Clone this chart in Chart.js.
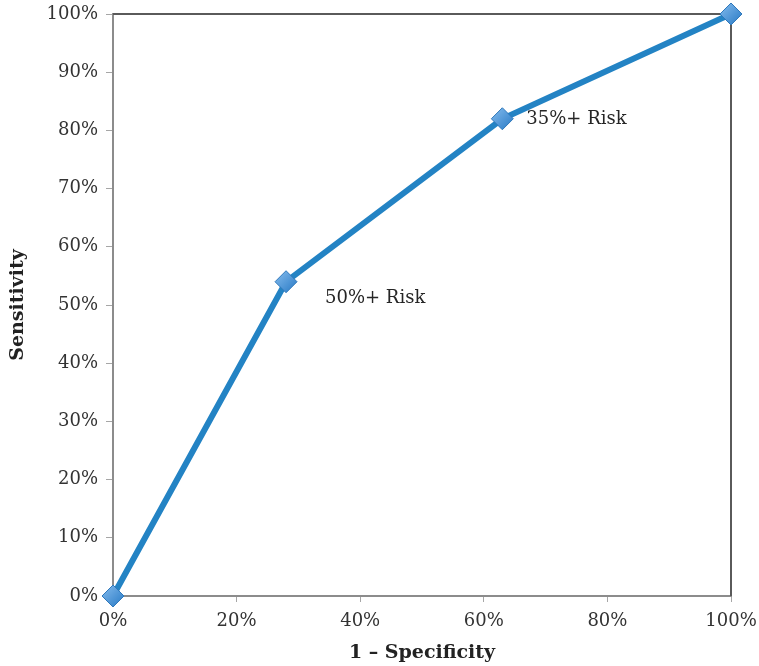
<!DOCTYPE html>
<html>
<head>
<meta charset="utf-8">
<script src="https://cdn.jsdelivr.net/npm/chart.js@4/dist/chart.umd.min.js"></script>
<style>
  html, body { margin: 0; padding: 0; background: #fff; }
  #wrap { width: 759px; height: 666px; }
</style>
</head>
<body>
<div id="wrap"><canvas id="c" width="759" height="666"></canvas></div>
<script>
// ROC curve: false positive rate (1 - specificity) vs sensitivity, in percent
const falsePositiveRate = [0, 28, 63, 100];
const sensitivity = [0, 54, 82, 100];
// Risk-threshold annotations, keyed by point index
const thresholdPoints = [1, 2];
const thresholdLabels = ['50%+ Risk', '35%+ Risk'];
const tickValues = [0, 10, 20, 30, 40, 50, 60, 70, 80, 90, 100];

const FONT = '"DejaVu Serif", "Liberation Serif", serif';

const points = falsePositiveRate.map((x, i) => ({ x, y: sensitivity[i] }));

// Box lines on the top and right of the plot area
const frame = {
  id: 'frame',
  beforeDatasetsDraw(chart) {
    const { ctx, chartArea: a } = chart;
    ctx.save();
    ctx.strokeStyle = '#5a5a5a';
    ctx.lineWidth = 2;
    ctx.beginPath();
    ctx.moveTo(a.left, a.top);
    ctx.lineTo(a.right, a.top);
    ctx.lineTo(a.right, a.bottom);
    ctx.stroke();
    ctx.restore();
  }
};

// Text labels beside the threshold points
const thresholdText = {
  id: 'thresholdText',
  afterDatasetsDraw(chart) {
    const { ctx, scales } = chart;
    const offsets = [[39, 17], [24, 1]];
    ctx.save();
    ctx.font = '18px ' + FONT;
    ctx.fillStyle = '#262626';
    ctx.textBaseline = 'middle';
    thresholdPoints.forEach((idx, k) => {
      const px = scales.x.getPixelForValue(falsePositiveRate[idx]);
      const py = scales.y.getPixelForValue(sensitivity[idx]);
      ctx.fillText(thresholdLabels[k], px + offsets[k][0], py + offsets[k][1]);
    });
    ctx.restore();
  }
};

const diamondFill = (context) => {
  const el = context.element;
  const c = context.chart.ctx;
  if (!el || el.x === undefined) return '#4a94d8';
  const g = c.createLinearGradient(el.x - 9, el.y - 9, el.x + 9, el.y + 9);
  g.addColorStop(0, '#7db6ea');
  g.addColorStop(1, '#2f7fc8');
  return g;
};

// Let the layout padding alone decide the plot-area edges
const noLabelOverflow = (axis) => {
  axis.paddingTop = 0;
  axis.paddingBottom = 0;
  axis.paddingLeft = 0;
  axis.paddingRight = 0;
};

new Chart(document.getElementById('c'), {
  type: 'scatter',
  data: {
    datasets: [{
      data: points,
      showLine: true,
      borderColor: '#2383c4',
      borderWidth: 6,
      pointStyle: 'rectRot',
      pointRadius: 11,
      pointBackgroundColor: diamondFill,
      pointBorderColor: '#2f78bb',
      pointBorderWidth: 1,
      clip: false
    }]
  },
  options: {
    responsive: false,
    animation: false,
    devicePixelRatio: 1,
    layout: { padding: { top: 14, right: 28, bottom: 0, left: 0 } },
    plugins: { legend: { display: false }, tooltip: { enabled: false } },
    scales: {
      x: {
        type: 'linear',
        min: 0, max: 100,
        afterBuildTicks(axis) {
          axis.ticks = tickValues.filter(v => v % 20 === 0).map(v => ({ value: v }));
        },
        afterFit(axis) { axis.height = 70; noLabelOverflow(axis); },
        ticks: {
          callback: v => v + '%',
          color: '#333',
          font: { family: FONT, size: 18 },
          padding: 9,
          maxRotation: 0
        },
        grid: {
          drawOnChartArea: false,
          drawTicks: true,
          tickLength: 6,
          color: '#a6a6a6',
          lineWidth: 1
        },
        border: { color: '#8c8c8c', width: 2 },
        title: {
          display: true,
          text: '1 – Specificity',
          color: '#222',
          font: { family: FONT, size: 19, weight: 'bold' },
          padding: { top: 6, bottom: 2 }
        }
      },
      y: {
        type: 'linear',
        min: 0, max: 100,
        afterBuildTicks(axis) {
          axis.ticks = tickValues.map(v => ({ value: v }));
        },
        afterFit(axis) { axis.width = 113; noLabelOverflow(axis); },
        ticks: {
          callback: v => v + '%',
          color: '#333',
          font: { family: FONT, size: 18 },
          padding: 8
        },
        grid: {
          drawOnChartArea: false,
          drawTicks: true,
          tickLength: 7,
          color: '#a6a6a6',
          lineWidth: 1
        },
        border: { color: '#8c8c8c', width: 2 },
        title: {
          display: true,
          text: 'Sensitivity',
          color: '#222',
          font: { family: FONT, size: 19, weight: 'bold' },
          padding: { top: 7, bottom: 0 }
        }
      }
    }
  },
  plugins: [frame, thresholdText]
});
</script>
</body>
</html>
